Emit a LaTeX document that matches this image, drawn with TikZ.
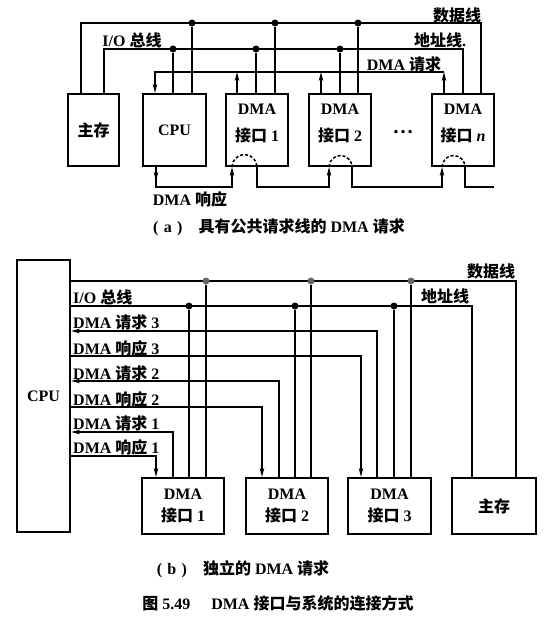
\documentclass[tikz,border=0pt]{standalone}
\usepackage{fontspec}
\setmainfont{Liberation Serif}
\newfontfamily\cjk{Noto Sans CJK SC}
\newcommand{\zh}[1]{{\cjk #1}}
\usetikzlibrary{arrows.meta,positioning}

\begin{document}
\begin{tikzpicture}[x=1pt,y=-1pt,
    every node/.style={font=\fontsize{16}{19}\selectfont\bfseries},
    box/.style={draw,line width=2pt,inner sep=0pt,align=center},
    bus/.style={line width=1.5pt},
    dot/.style={circle,fill,inner sep=0pt,minimum size=7pt},
    txt/.style={inner sep=0pt,align=center},
    >={Stealth[length=9pt,width=4.5pt]}]
\useasboundingbox (0,0) rectangle (548,618);

% (a) common request line
\node[box,minimum width=51pt,minimum height=72pt] (mem1) at (93.5,130) {\zh{主存}};
\node[box,minimum width=63pt,minimum height=72pt] (cpu1) at (174.5,130) {CPU};
\node[box,minimum width=62pt,minimum height=72pt] (dma1a) at (257,130) {};
\node[box,minimum width=62pt,minimum height=72pt] (dma2a) at (340,130) {};
\node[box,minimum width=62pt,minimum height=72pt] (dmana) at (463,130) {};
\node[txt] (t1a) at (257,123.5) {DMA\\[8pt]\zh{接口} 1};
\node[txt] (t2a) at (340,123.5) {DMA\\[8pt]\zh{接口} 2};
\node[txt] (tna) at (463,123.5) {DMA\\[8pt]\zh{接口} \textit{n}};
\node[txt] (dots) at (403,132) {\fontsize{21}{21}\selectfont …};

\node[txt] (iolab1) at (132,40) {I/O \zh{总线}};
\node[txt] (dlab1) at (457,15) {\zh{数据线}};
\node[txt] (alab1) at (440,40) {\zh{地址线}.};
\node[txt] (rlab1) at (404,64) {DMA \zh{请求}};
\node[txt] (klab1) at (190,199) {DMA \zh{响应}};
\node[txt] (capa) at (279,227) {(\,\,a\,\,)\quad\zh{具有公共请求线的} DMA \zh{请求}};

\draw[bus] (mem1.north -| 81,0) -- (81,23) -- (481,23) -- (dmana.north -| 481,0);
\draw[bus] (mem1.north -| 104,0) -- (104,49) -- (463,49) -- (dmana.north);
\node[dot] (d1a) at (192,23) {};
\node[dot] (d2a) at (275,23) {};
\node[dot] (d3a) at (358,23) {};
\node[dot] (a1a) at (173,49) {};
\node[dot] (a2a) at (256,49) {};
\node[dot] (a3a) at (340,49) {};
\draw[bus] (d1a) -- (cpu1.north -| d1a);
\draw[bus] (d2a) -- (dma1a.north -| d2a);
\draw[bus] (d3a) -- (dma2a.north -| d3a);
\draw[bus] (a1a) -- (cpu1.north -| a1a);
\draw[bus] (a2a) -- (dma1a.north -| a2a);
\draw[bus] (a3a) -- (dma2a.north);

% request line
\draw[bus,->] (dmana.north -| 444,0) -- (444,72);
\draw[bus,->] (444,72) -- (155,72) -- (cpu1.north -| 155,0);
\draw[bus,->] (dma1a.north -| 237,0) -- (237,72);
\draw[bus,->] (dma2a.north -| 321,0) -- (321,72);

% daisy chain
\draw[bus,->] (cpu1.south -| 156,0) -- (156,181);
\draw[bus,->] (156,178) |- (232,187) -- (dma1a.south -| 232,0);
\draw[bus,->] (dma1a.south -| 257,0) |- (329,187) -- (dma2a.south -| 329,0);
\draw[bus,->] (dma2a.south -| 352,0) |- (442,187) -- (dmana.south -| 442,0);
\draw[bus] (dmana.south -| 465,0) |- (494,187);
\draw[bus,dash pattern=on 3pt off 2pt] (dma1a.south -| 232,0) arc[start angle=180,end angle=0,radius=12.5pt];
\draw[bus,dash pattern=on 3pt off 2pt] (dma2a.south -| 329,0) arc[start angle=180,end angle=0,radius=11.5pt];
\draw[bus,dash pattern=on 3pt off 2pt] (dmana.south -| 442,0) arc[start angle=180,end angle=0,radius=11.5pt];

% (b) independent requests
\node[box,minimum width=53pt,minimum height=272pt] (cpu2) at (43.5,396) {CPU};
\node[box,minimum width=82pt,minimum height=56pt] (dma1b) at (183,506) {DMA\\[3pt]\zh{接口} 1};
\node[box,minimum width=82pt,minimum height=56pt] (dma2b) at (287,506) {DMA\\[3pt]\zh{接口} 2};
\node[box,minimum width=83pt,minimum height=56pt] (dma3b) at (389.5,506) {DMA\\[3pt]\zh{接口} 3};
\node[box,minimum width=84pt,minimum height=56pt] (mem2) at (494,506) {\zh{主存}};

\node[txt] (dlab2) at (491,271) {\zh{数据线}};
\node[txt] (alab2) at (445,296) {\zh{地址线}};
\node[txt,anchor=west] (iolab2) at (73,297) {I/O \zh{总线}};
\node[txt,anchor=west] (lq3) at (73,322) {DMA \zh{请求} 3};
\node[txt,anchor=west] (lk3) at (73,348) {DMA \zh{响应} 3};
\node[txt,anchor=west] (lq2) at (73,373) {DMA \zh{请求} 2};
\node[txt,anchor=west] (lk2) at (73,399) {DMA \zh{响应} 2};
\node[txt,anchor=west] (lq1) at (73,423) {DMA \zh{请求} 1};
\node[txt,anchor=west] (lk1) at (73,447) {DMA \zh{响应} 1};
\node[txt] (capb) at (243,569) {(\,\,b\,\,)\quad\zh{独立的} DMA \zh{请求}};
\node[txt] (fig) at (278,603) {\zh{图} 5.49\hspace{1.3em}DMA \zh{接口与系统的连接方式}};

\draw[bus] (cpu2.east |- 0,281) -- (516,281) -- (mem2.north -| 516,0);
\draw[bus] (cpu2.east |- 0,306) -- (472,306) -- (mem2.north -| 472,0);
\node[dot,black!60] (d1b) at (206,281) {};
\node[dot,black!60] (d2b) at (311,281) {};
\node[dot,black!60] (d3b) at (411,281) {};
\node[dot] (a1b) at (189,306) {};
\node[dot] (a2b) at (295,306) {};
\node[dot] (a3b) at (394,306) {};
\draw[bus] (d1b) -- (dma1b.north -| d1b);
\draw[bus] (d2b) -- (dma2b.north -| d2b);
\draw[bus] (d3b) -- (dma3b.north -| d3b);
\draw[bus] (a1b) -- (dma1b.north -| a1b);
\draw[bus] (a2b) -- (dma2b.north -| a2b);
\draw[bus] (a3b) -- (dma3b.north -| a3b);

\draw[bus,->] (dma3b.north -| 377,0) |- (cpu2.east |- 0,331);
\draw[bus,->] (cpu2.east |- 0,356) -| (dma3b.north -| 361,0);
\draw[bus,->] (dma2b.north -| 279,0) |- (cpu2.east |- 0,381);
\draw[bus,->] (cpu2.east |- 0,407) -| (dma2b.north -| 262,0);
\draw[bus,->] (dma1b.north -| 173,0) |- (cpu2.east |- 0,432);
\draw[bus,->] (cpu2.east |- 0,456) -| (dma1b.north -| 156,0);

\end{tikzpicture}
\end{document}
